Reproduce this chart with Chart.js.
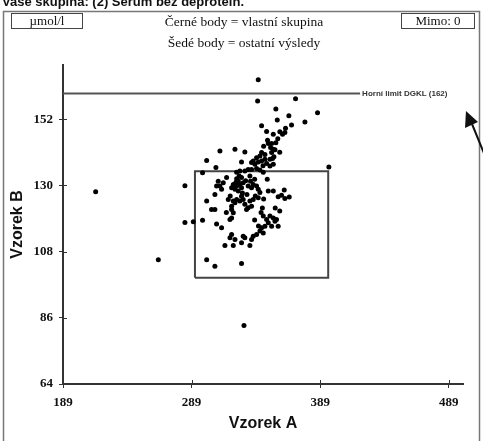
<!DOCTYPE html>
<html>
<head>
<meta charset="utf-8">
<script src="https://cdn.jsdelivr.net/npm/chart.js@4/dist/chart.umd.min.js"></script>
<style>
  body { margin: 0; background: #fff; }
  #wrap { width: 483px; height: 441px; }
</style>
</head>
<body>
<div id="wrap"><canvas id="chart" width="483" height="441"></canvas></div>
<script>
// vzorek A / vzorek B (umol/l), ctene z obrazku
const sampleA = [
  340.8, 340.3, 369.8, 354.5, 364.6, 386.9, 355.6, 366.7, 377.1, 343.4,
  347.3, 352.5, 357.6, 359.7, 361.5, 348.6, 351.2, 354.5, 350.4, 352.5,
  353.8, 351.2, 311.0, 322.7, 330.4, 342.1, 343.4, 346.0, 339.5, 336.9,
  335.6, 338.2, 340.8, 343.4, 346.0, 347.3, 349.9, 351.9, 327.8, 300.7,
  307.9, 349.9, 352.5, 333.0, 330.4, 326.5, 324.0, 335.6, 339.5, 342.1,
  344.7, 297.5, 326.0, 324.0, 325.3, 327.8, 329.1, 326.5, 324.0, 322.7,
  325.3, 327.8, 334.3, 334.8, 336.9, 335.6, 333.0, 339.5, 340.8, 321.4,
  320.1, 316.2, 313.6, 311.0, 312.3, 309.7, 308.4, 347.8, 356.3, 358.9,
  361.5, 364.9, 352.5, 348.6, 342.1, 340.8, 336.9, 334.3, 335.6, 333.0,
  331.7, 330.4, 327.8, 329.1, 326.5, 324.0, 322.7, 321.4, 320.1, 317.5,
  307.1, 300.7, 304.5, 307.1, 320.1, 321.4, 320.1, 318.8, 290.3, 297.5,
  308.4, 312.3, 344.7, 347.3, 349.9, 352.5, 355.0, 348.6, 346.0, 343.4,
  342.1, 344.7, 339.5, 336.9, 335.6, 351.2, 353.8, 356.3, 320.1, 318.8,
  322.7, 329.1, 330.4, 314.9, 321.4, 327.8, 334.3, 300.7, 307.1, 327.8,
  283.8, 263.1, 329.7, 283.8, 214.4, 395.7, 323.5, 328.5, 331.0, 332.0,
  338.0, 319.0, 338.5, 345.0, 344.0, 357.5, 354.0, 361.0, 316.0, 338.0,
  341.0, 343.0, 345.0, 356.0, 348.0, 362.0, 353.0, 357.5, 344.5
];
const sampleB = [
  165.1, 158.0, 158.8, 155.4, 153.1, 154.1, 151.7, 150.1, 151.1, 149.8,
  147.9, 147.0, 147.8, 147.0, 147.6, 143.9, 143.9, 144.2, 142.6, 142.0,
  141.8, 140.9, 141.4, 142.0, 141.1, 139.8, 140.9, 140.3, 139.2, 138.1,
  137.6, 137.0, 137.8, 138.1, 138.7, 137.3, 138.7, 138.9, 137.8, 138.3,
  135.9, 136.4, 137.0, 135.3, 134.8, 134.8, 134.4, 135.3, 135.6, 135.1,
  134.4, 134.2, 133.1, 132.2, 131.4, 132.6, 130.9, 130.3, 129.8, 128.7,
  128.1, 129.2, 133.1, 131.4, 130.3, 129.2, 129.8, 129.8, 128.7, 130.3,
  129.2, 132.6, 130.9, 129.8, 128.7, 131.4, 129.8, 132.0, 126.2, 126.7,
  125.6, 126.1, 128.1, 128.1, 127.6, 125.9, 125.3, 124.8, 123.1, 122.6,
  122.0, 123.7, 126.4, 125.3, 124.8, 125.3, 124.2, 124.8, 123.1, 125.3,
  127.0, 124.8, 122.0, 122.0, 122.0, 120.9, 119.2, 118.7, 117.9, 118.4,
  117.2, 115.9, 119.8, 118.7, 119.8, 119.2, 118.7, 117.6, 116.4, 115.9,
  114.8, 114.2, 113.7, 113.1, 112.0, 116.4, 118.1, 116.4, 113.7, 112.6,
  112.0, 113.1, 112.6, 110.0, 110.0, 110.9, 110.0, 105.3, 103.1, 104.0,
  117.7, 105.3, 83.4, 129.9, 127.9, 136.1, 131.0, 127.5, 131.5, 127.0,
  132.0, 126.5, 126.5, 125.5, 122.5, 121.5, 122.5, 128.5, 121.0, 118.5,
  116.5, 121.0, 143.0, 145.5, 145.0, 149.0, 139.5, 141.0, 136.5
];

const xTicks = [189, 289, 389, 489];
const yTicks = [64, 86, 108, 130, 152];
const xRange = [189, 500];
const yRange = [64, 170];

// horni limit (cara) a obdelnik
const limitLabel = 'Horní limit DGKL (162)';
const limitValue = 160.5;
const limitEndA = 420;
const boxA = [291.6, 395.2];
const boxB = [99.3, 134.7];

const unitText = 'µmol/l';
const outsideText = 'Mimo: 0';
const headerText = 'Vaše skupina: (2) Sérum bez deprotein.';
const legendLines = ['Černé body = vlastní skupina', 'Šedé body = ostatní výsledy'];

const points = sampleA.map((a, i) => ({ x: a, y: sampleB[i] }));
const limitLine = [{ x: xRange[0], y: limitValue }, { x: limitEndA, y: limitValue }];
const boxLine = [
  { x: boxA[0], y: boxB[0] }, { x: boxA[1], y: boxB[0] },
  { x: boxA[1], y: boxB[1] }, { x: boxA[0], y: boxB[1] },
  { x: boxA[0], y: boxB[0] }
];

const serif = '"Liberation Serif", "Times New Roman", serif';
const sans = '"Liberation Sans", Arial, sans-serif';

const decorPlugin = {
  id: 'decor',
  beforeDraw(chart) {
    const c = chart.ctx;
    c.save();
    c.fillStyle = '#fff';
    c.fillRect(0, 0, chart.width, chart.height);
    c.restore();
  },
  afterDraw(chart) {
    const c = chart.ctx;
    const y = chart.scales.y;
    const x = chart.scales.x;
    c.save();

    c.fillStyle = '#111';
    c.font = 'bold 13px ' + sans;
    c.textAlign = 'left';
    c.textBaseline = 'alphabetic';
    c.fillText(headerText, 2, 6);

    c.strokeStyle = '#777';
    c.lineWidth = 1.5;
    c.strokeRect(3.5, 11.5, 476, 440);

    c.strokeStyle = '#444';
    c.lineWidth = 1;
    c.strokeRect(11.5, 13.5, 71, 15);
    c.strokeRect(401.5, 13.5, 73, 15);

    c.font = '13px ' + serif;
    c.textAlign = 'center';
    c.fillText(unitText, 47, 25);
    c.fillText(outsideText, 438, 25);
    c.font = '13.5px ' + serif;
    c.fillText(legendLines[0], 244, 26);
    c.fillText(legendLines[1], 244, 47);

    // znacky os i dovnitr grafu
    c.strokeStyle = '#333';
    c.lineWidth = 1;
    xTicks.forEach(v => {
      const px = Math.round(x.getPixelForValue(v)) + 0.5;
      c.beginPath(); c.moveTo(px, x.top); c.lineTo(px, x.top - 4); c.stroke();
    });
    yTicks.forEach(v => {
      const py = Math.round(y.getPixelForValue(v)) + 0.5;
      c.beginPath(); c.moveTo(y.right, py); c.lineTo(y.right + 4, py); c.stroke();
    });

    c.font = 'bold 8px ' + sans;
    c.textAlign = 'left';
    c.textBaseline = 'middle';
    c.fillStyle = '#333';
    c.fillText(limitLabel, x.getPixelForValue(limitEndA) + 2, y.getPixelForValue(limitValue));

    // sipka vpravo
    c.strokeStyle = '#111';
    c.fillStyle = '#111';
    c.lineWidth = 2;
    c.beginPath();
    c.moveTo(490, 168);
    c.lineTo(472, 124);
    c.stroke();
    c.beginPath();
    c.moveTo(466, 111);
    c.lineTo(465, 128);
    c.lineTo(478, 122);
    c.closePath();
    c.fill();

    c.restore();
  }
};

new Chart(document.getElementById('chart'), {
  type: 'scatter',
  data: {
    datasets: [
      {
        data: points,
        pointRadius: 2.5,
        pointBackgroundColor: '#000',
        pointBorderWidth: 0
      },
      {
        data: limitLine,
        showLine: true,
        pointRadius: 0,
        borderColor: '#555',
        borderWidth: 2
      },
      {
        data: boxLine,
        showLine: true,
        pointRadius: 0,
        borderColor: '#444',
        borderWidth: 2
      }
    ]
  },
  options: {
    responsive: false,
    animation: false,
    layout: { padding: { top: 65, right: 20, left: 0, bottom: 0 } },
    plugins: { legend: { display: false }, tooltip: { enabled: false } },
    scales: {
      x: {
        type: 'linear',
        min: xRange[0],
        max: xRange[1],
        afterBuildTicks: s => { s.ticks = xTicks.map(v => ({ value: v })); },
        afterFit: s => { s.height = 57; },
        grid: { drawOnChartArea: false, tickLength: 4, color: '#333' },
        border: { color: '#333', width: 2 },
        ticks: { color: '#111', padding: 7, maxRotation: 0, font: { family: serif, size: 13, weight: 'bold' } },
        title: { display: true, text: 'Vzorek A', color: '#111', padding: { top: 0, bottom: 8 }, font: { family: sans, size: 16, weight: 'bold' } }
      },
      y: {
        type: 'linear',
        min: yRange[0],
        max: yRange[1],
        afterBuildTicks: s => { s.ticks = yTicks.map(v => ({ value: v })); },
        afterFit: s => { s.width = 63; },
        grid: { drawOnChartArea: false, tickLength: 4, color: '#333' },
        border: { color: '#333', width: 2 },
        ticks: { color: '#111', padding: 6, font: { family: serif, size: 13, weight: 'bold' } },
        title: { display: true, text: 'Vzorek B', color: '#111', padding: { top: 8, bottom: 0 }, font: { family: sans, size: 16, weight: 'bold' } }
      }
    }
  },
  plugins: [decorPlugin]
});
</script>
</body>
</html>
